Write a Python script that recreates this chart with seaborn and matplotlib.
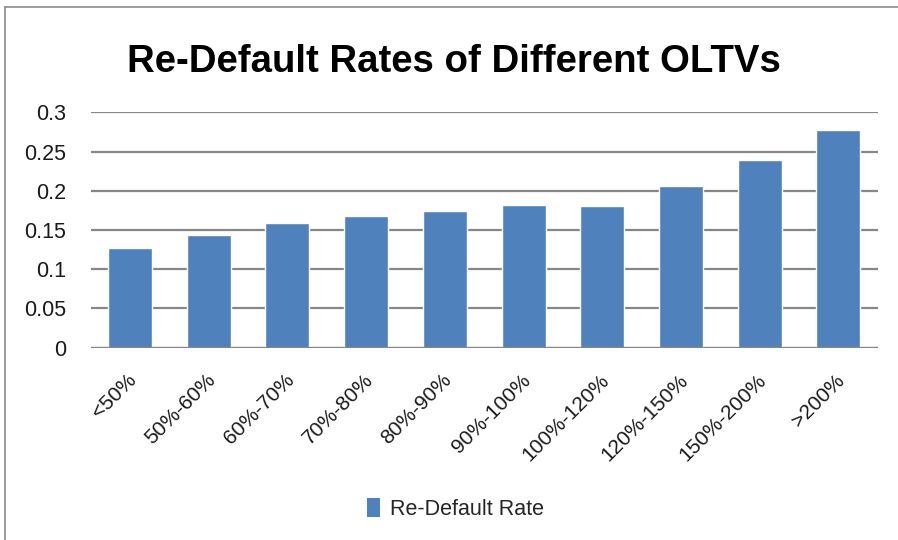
import matplotlib
matplotlib.use("Agg")
import matplotlib.pyplot as plt
from matplotlib.patches import Rectangle
from matplotlib.lines import Line2D
import matplotlib.transforms as mtransforms
import seaborn as sns
import pandas as pd

categories = ["<50%", "50%-60%", "60%-70%", "70%-80%", "80%-90%",
              "90%-100%", "100%-120%", "120%-150%", "150%-200%", ">200%"]
re_default_rate = [0.127, 0.144, 0.1585, 0.168, 0.1745,
                   0.182, 0.180, 0.2055, 0.239, 0.277]
y_ticks = [0, 0.05, 0.1, 0.15, 0.2, 0.25, 0.3]
y_tick_labels = ["0", "0.05", "0.1", "0.15", "0.2", "0.25", "0.3"]

sns.set_style("white")
plt.rcParams["font.family"] = ["Liberation Sans", "DejaVu Sans"]

bar_color = "#4F81BD"
grid_color = "#878787"
text_color = "#1a1a1a"

df = pd.DataFrame({"OLTV": categories, "Re-Default Rate": re_default_rate})

fig = plt.figure(figsize=(8.98, 5.4), dpi=100)
ax = fig.add_axes([0.101, 0.3561, 0.8764, 0.4359])

sns.barplot(data=df, x="OLTV", y="Re-Default Rate", color=bar_color,
            saturation=1, width=0.56, ax=ax, zorder=3)

ax.set_ylim(0, 0.3)
ax.set_xlim(-0.5, len(categories) - 0.5)
ax.set_yticks(y_ticks)
ax.set_yticklabels(y_tick_labels, fontsize=15.5, color=text_color)
ax.tick_params(axis="y", length=0, pad=17.5)
ax.tick_params(axis="x", length=0, pad=2)
ax.set_xticks(range(len(categories)))
ax.set_xticklabels(categories, rotation=45, ha="right", rotation_mode="anchor",
                   fontsize=15, color=text_color)
shift = mtransforms.ScaledTranslation(-3 / 100, -20 / 100, fig.dpi_scale_trans)
for lbl in ax.get_xticklabels():
    lbl.set_transform(lbl.get_transform() + shift)

ax.yaxis.grid(True, color=grid_color, linewidth=1.6, zorder=0)
ax.set_axisbelow(True)
for side in ["top", "right", "left", "bottom"]:
    ax.spines[side].set_visible(False)
ax.axhline(0, color=grid_color, linewidth=1.6, zorder=4)
ax.set_xlabel("")
ax.set_ylabel("")

fig.text(0.506, 0.886, "Re-Default Rates of Different OLTVs", ha="center", va="center",
         fontsize=27.6, fontweight="bold", color="black")

# legend below the plot
handle = Rectangle((0, 0), 1, 1, facecolor=bar_color, edgecolor="none")
fig.legend([handle], ["Re-Default Rate"], loc="center", bbox_to_anchor=(0.507, 0.057),
           frameon=False, handlelength=0.62, handleheight=1.0, handletextpad=0.45,
           prop={"size": 15.5})

# chart area border
border = "#8c8c8c"
fig.add_artist(Line2D([5 / 898, 5 / 898], [0, 1 - 7 / 540], color=border, linewidth=1.2,
                      transform=fig.transFigure))
fig.add_artist(Line2D([5 / 898, 1], [1 - 7 / 540, 1 - 7 / 540], color=border, linewidth=1.2,
                      transform=fig.transFigure))

fig.savefig("out.png", dpi=100)
